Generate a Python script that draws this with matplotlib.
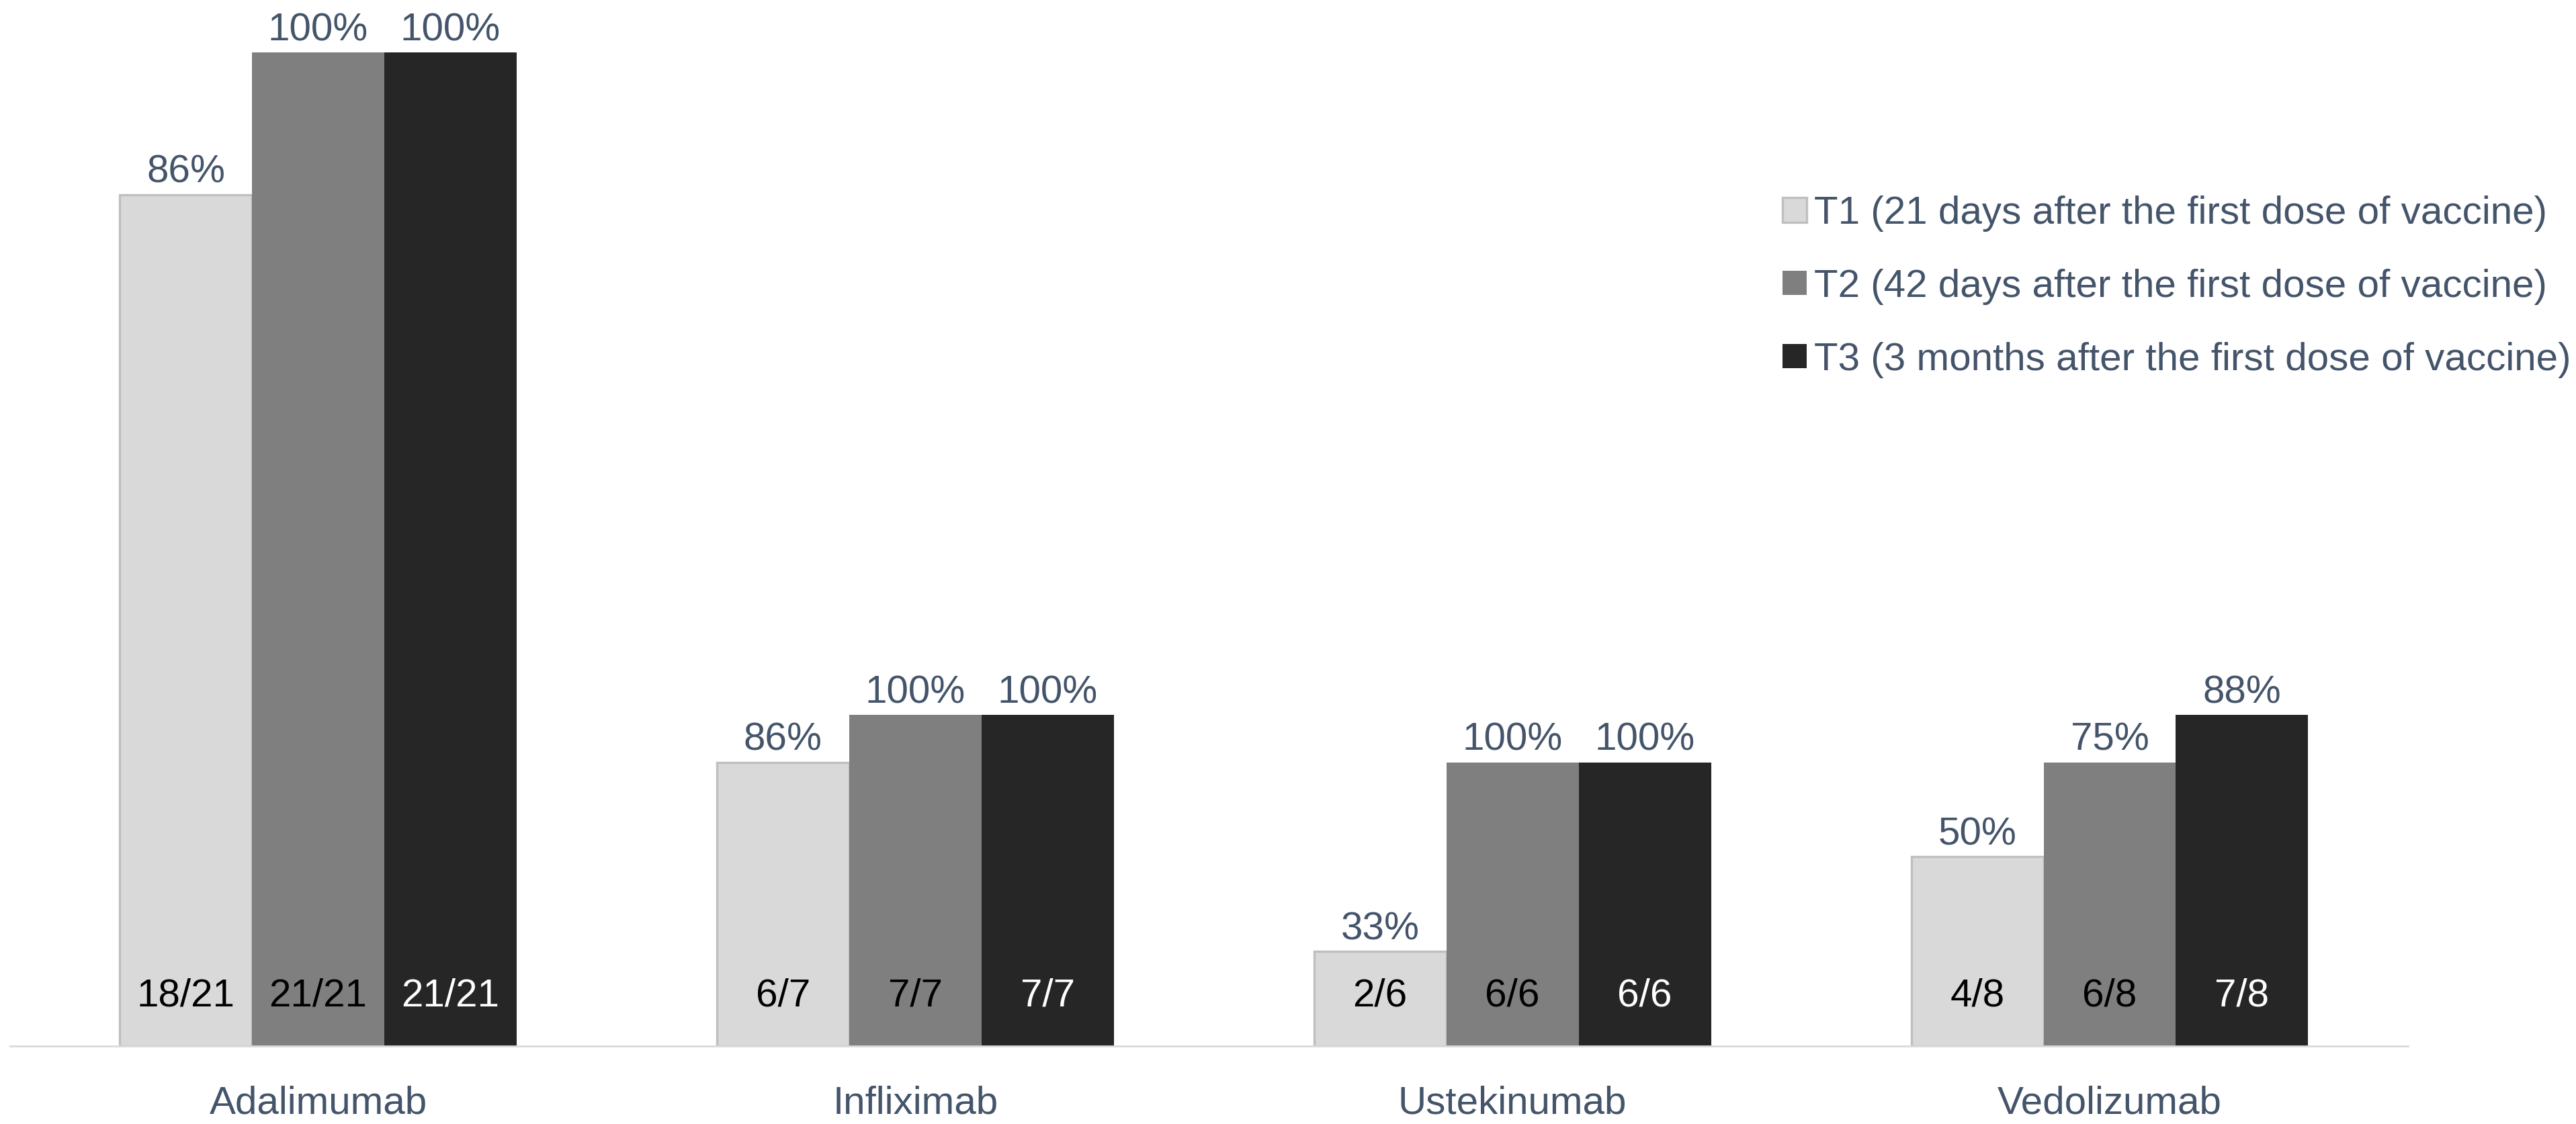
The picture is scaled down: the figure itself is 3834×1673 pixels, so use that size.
import matplotlib
matplotlib.use("Agg")
import matplotlib.pyplot as plt
from matplotlib.patches import Patch

drugs = ["Adalimumab", "Infliximab", "Ustekinumab", "Vedolizumab"]
series_labels = [
    "T1 (21 days after the first dose of vaccine)",
    "T2 (42 days after the first dose of vaccine)",
    "T3 (3 months after the first dose of vaccine)",
]
responders_t1 = [18, 6, 2, 4]
responders_t2 = [21, 7, 6, 6]
responders_t3 = [21, 7, 6, 7]
patients = [21, 7, 6, 8]

responders = [responders_t1, responders_t2, responders_t3]
fill_colors = ["#D9D9D9", "#7F7F7F", "#262626"]
edge_colors = ["#BFBFBF", "#7F7F7F", "#262626"]
count_colors = ["black", "black", "white"]
text_color = "#44546A"

plt.rcParams["font.family"] = ["Liberation Sans", "DejaVu Sans"]
FS = 21

fig = plt.figure(figsize=(19.17, 8.365), dpi=200)
ax = fig.add_axes([0.0039, 0.0693, 0.931, 0.926])

width = 0.2216
x = list(range(len(drugs)))
for s, counts in enumerate(responders):
    pos = [xi + (s - 1) * width for xi in x]
    ax.bar(pos, counts, width=width, color=fill_colors[s],
           edgecolor=edge_colors[s], linewidth=1.2 if s == 0 else 0,
           label=series_labels[s], zorder=2)
    for xp, n, d in zip(pos, counts, patients):
        pct = int(n * 100 / d + 0.5)
        ax.annotate(f"{pct}%", xy=(xp, n), xytext=(0, 6.5),
                    textcoords="offset points", ha="center", va="baseline",
                    fontsize=FS, color=text_color, annotation_clip=False)
        ax.text(xp, 0.84, f"{n}/{d}", ha="center", va="baseline",
                fontsize=FS, color=count_colors[s], zorder=3)

ax.set_xlim(-0.516, 3.5)
ax.set_ylim(0, 22)
ax.set_xticks(x)
ax.set_xticklabels(drugs, fontsize=FS, color=text_color)
ax.tick_params(axis="x", length=0, pad=21)
ax.set_yticks([])
for side in ["left", "right", "top"]:
    ax.spines[side].set_visible(False)
ax.spines["bottom"].set_color("#D9D9D9")
ax.spines["bottom"].set_linewidth(1.0)

handles = [Patch(facecolor=fill_colors[i], edgecolor=edge_colors[i],
                 linewidth=1.2 if i == 0 else 0) for i in range(3)]
fig.legend(handles, series_labels, loc="upper left",
           bbox_to_anchor=(0.692, 0.826), frameon=False, fontsize=FS,
           labelcolor=text_color, handlelength=0.62, handleheight=0.58,
           handletextpad=0.18, labelspacing=0.94, borderpad=0,
           borderaxespad=0)

fig.savefig("out.png", dpi=200, facecolor="white")
